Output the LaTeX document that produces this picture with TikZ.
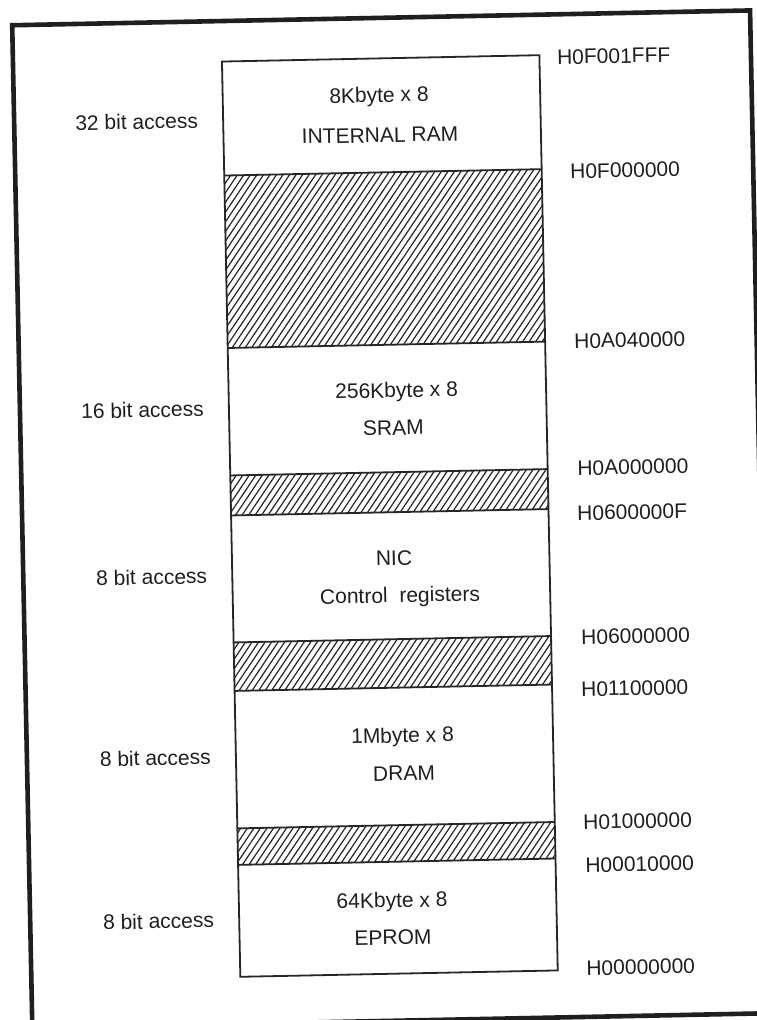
\documentclass[tikz,border=0pt]{standalone}
\usepackage{fontspec}
\setmainfont{Liberation Sans}
\begin{document}
\begin{tikzpicture}[x=1pt,y=-1pt,
  lbl/.style={font=\fontsize{21}{25}\selectfont, inner sep=0pt, text height=15pt, text depth=0pt, transform shape, text=black!88},
  leftlbl/.style={lbl, anchor=east},
  addr/.style={lbl, anchor=west},
  boxline/.style={line width=1.8pt, black!85},
  hatchline/.style={line width=1.2pt, black!85},
  frameline/.style={line width=4.6pt, black!88}]
\newcommand\hatchband[2]{%
  \begin{scope}
    \clip (231,#1) rectangle (548.5,#2);
    \foreach \i in {0,...,75} {
      \draw[hatchline] (80+\i*6.6,#2+5) -- ++(140,-200);
    }
  \end{scope}
  \draw[boxline] (231,#1) -- (548.5,#1);
  \draw[boxline] (231,#2) -- (548.5,#2);
}
\useasboundingbox (0,0) rectangle (757,1020);
\fill[white] (0,0) rectangle (757,1020);
\begin{scope}[rotate around={1.15:(378,510)}]
  % outer frame
  \draw[frameline] (22,18) rectangle (760,1021);
  % memory column
  \coordinate (boxtl) at (231,58.5);
  \coordinate (boxbr) at (548.5,974);
  \hatchband{172.5}{345}
  \hatchband{472.5}{512.5}
  \hatchband{639.5}{688}
  \hatchband{825.5}{862}
  \draw[boxline] (boxtl) rectangle (boxbr);
  % block labels
  \node[lbl] (ram1) at (387.3,95) {8Kbyte x 8};
  \node[lbl] (ram2) at (387.5,135) {INTERNAL RAM};
  \node[lbl] (sram1) at (399,390.4) {256Kbyte x 8};
  \node[lbl] (sram2) at (395,428) {SRAM};
  \node[lbl] (nic1) at (393,558.3) {NIC};
  \node[lbl] (nic2) at (398.3,595.4) {Control\ \ registers};
  \node[lbl] (dram1) at (398,735.5) {1Mbyte x 8};
  \node[lbl] (dram2) at (398.7,773.5) {DRAM};
  \node[lbl] (eprom1) at (384.2,900.3) {64Kbyte x 8};
  \node[lbl] (eprom2) at (384.5,937.3) {EPROM};
  % access widths
  \node[leftlbl] (acc1) at (206,117) {32 bit access};
  \node[leftlbl] (acc2) at (206,405.3) {16 bit access};
  \node[leftlbl] (acc3) at (206,572.5) {8 bit access};
  \node[leftlbl] (acc4) at (206,753.5) {8 bit access};
  \node[leftlbl] (acc5) at (206,916.6) {8 bit access};
  % addresses
  \node[addr] (a1) at (566,60.6) {H0F001FFF};
  \node[addr] (a2) at (576.8,175) {H0F000000};
  \node[addr] (a3) at (577.4,345) {H0A040000};
  \node[addr] (a4) at (578,472) {H0A000000};
  \node[addr] (a5) at (577,517) {H0600000F};
  \node[addr] (a6) at (578.5,641) {H06000000};
  \node[addr] (a7) at (577.4,693) {H01100000};
  \node[addr] (a8) at (576.8,826) {H01000000};
  \node[addr] (a9) at (578,869) {H00010000};
  \node[addr] (a10) at (577,972) {H00000000};
\end{scope}
\end{tikzpicture}
\end{document}
